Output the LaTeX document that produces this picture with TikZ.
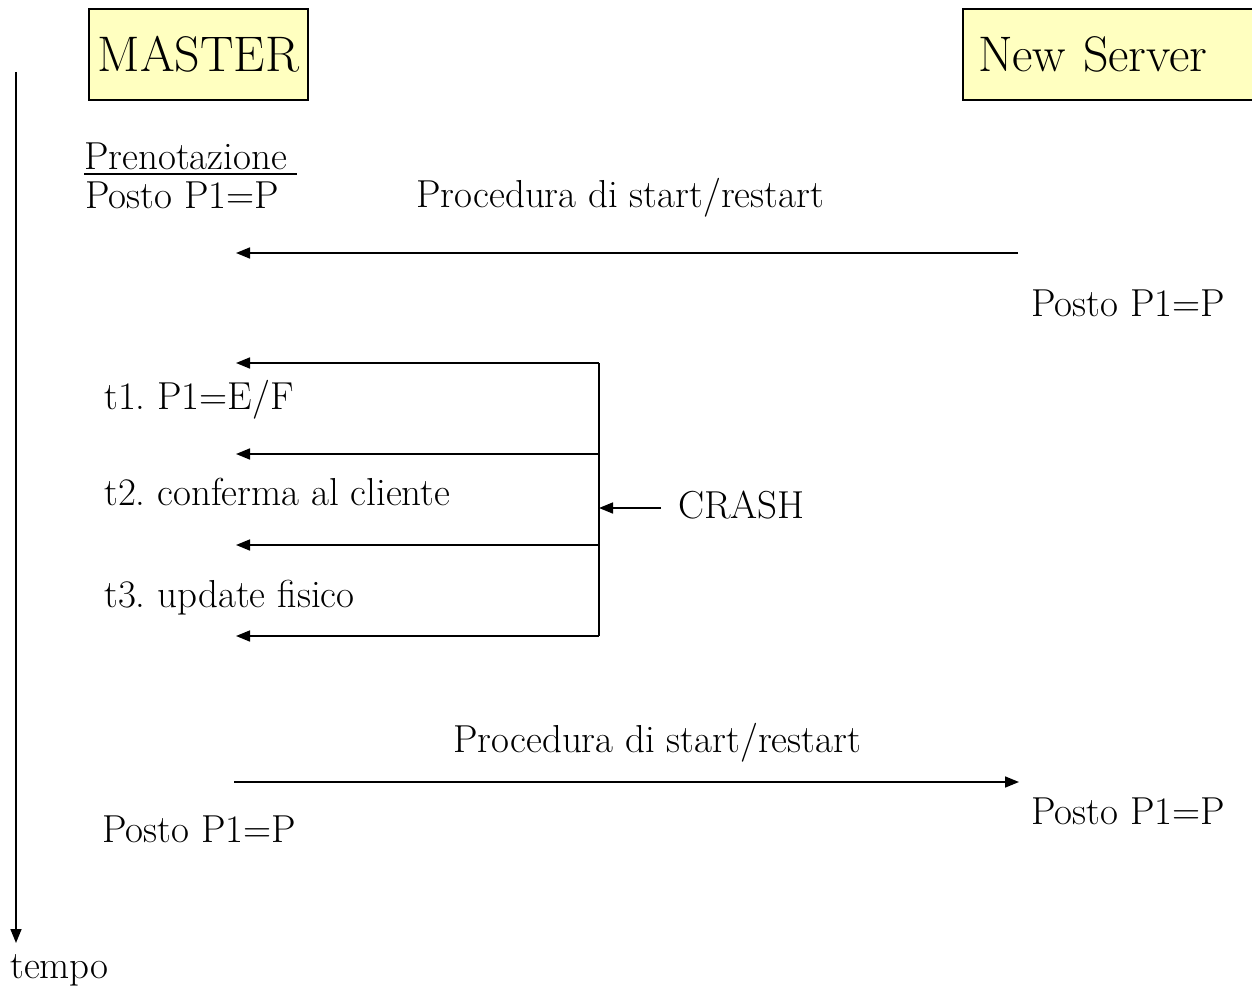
\documentclass[tikz,border=0pt]{standalone}
\usepackage{fontspec}
\usetikzlibrary{arrows.meta}
\frenchspacing
\definecolor{boxfill}{HTML}{FFFFC0}
\tikzset{
  body/.style={font=\fontsize{39}{46}\selectfont, inner sep=0pt, anchor=base west},
  title/.style={draw, line width=1.2pt, fill=boxfill, font=\fontsize{50}{58}\selectfont, inner sep=0pt},
  msg/.style={line width=1.6pt, -{Triangle[length=14pt,width=11pt]}},
  plain/.style={line width=1.6pt}
}
\begin{document}
\begin{tikzpicture}[x=1pt, y=-1pt]
\useasboundingbox (0,0) rectangle (1252,992);

% participant boxes
\node[title, minimum width=219pt, minimum height=91pt] (master) at (198.5,54.5) {MASTER};
\node[title, minimum width=296pt, minimum height=91pt, text width=266pt, align=left] (server) at (1111,54.5) {New Server};

% time axis
\coordinate (axtop) at (16,72);
\coordinate (axbot) at (16,943);
\draw[msg] (axtop) -- (axbot);
\node[body] (tempo) at (10,978) {tempo};

% initial state on the master
\node[body] (pren) at (84,170) {Prenotazione};
\draw[line width=1.2pt] ([yshift=-4pt]pren.base west) -- ([xshift=10pt,yshift=-4pt]pren.base east);
\node[body] (posto1) at (85,209) {Posto P1=P};

% first start/restart
\node[body] (proc1) at (416,208) {Procedura di start/restart};
\coordinate (a1s) at (1018,253);
\coordinate (a1e) at (236,253);
\draw[msg] (a1s) -- (a1e);
\node[body] (posto2) at (1031,316) {Posto P1=P};

% transaction steps
\coordinate (br1) at (599,363);
\coordinate (br2) at (599,454);
\coordinate (br3) at (599,545);
\coordinate (br4) at (599,636);
\coordinate (m1) at (236,363);
\coordinate (m2) at (236,454);
\coordinate (m3) at (236,545);
\coordinate (m4) at (236,636);
\draw[plain] (br1) -- (br4);
\draw[msg] (br1) -- (m1);
\draw[msg] (br2) -- (m2);
\draw[msg] (br3) -- (m3);
\draw[msg] (br4) -- (m4);
\node[body] (t1) at (104,409) {t1. P1=E/F};
\node[body] (t2) at (104,505) {t2. conferma al cliente};
\node[body] (t3) at (104,607) {t3. update fisico};

% crash point
\coordinate (cs) at (661,508);
\coordinate (ce) at (599,508);
\draw[msg] (cs) -- (ce);
\node[body] (crash) at (678,518) {CRASH};

% second start/restart
\node[body] (proc2) at (453,752) {Procedura di start/restart};
\coordinate (a2s) at (234,782);
\coordinate (a2e) at (1019,782);
\draw[msg] (a2s) -- (a2e);
\node[body] (posto3) at (1031,824) {Posto P1=P};
\node[body] (posto4) at (102,842) {Posto P1=P};
\end{tikzpicture}
\end{document}
